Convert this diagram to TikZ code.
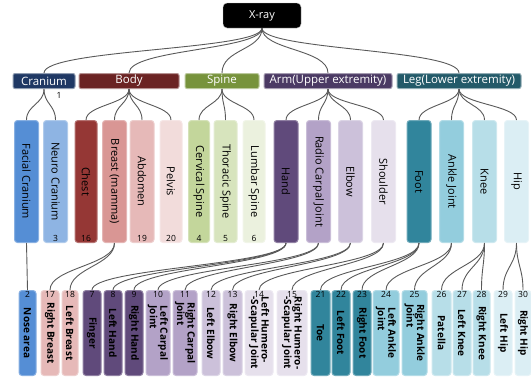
\documentclass[tikz,border=0pt]{standalone}
\usepackage{fontspec}
\setmainfont{Open Sans}
\usetikzlibrary{positioning}
\usepackage{xcolor}
\definecolor{cranC}{RGB}{31,56,100}
\definecolor{bodyC}{RGB}{107,35,35}
\definecolor{spineC}{RGB}{119,147,60}
\definecolor{armC}{RGB}{75,58,100}
\definecolor{legC}{RGB}{35,90,105}
\definecolor{facialC}{RGB}{85,142,213}
\definecolor{neuroC}{RGB}{142,180,227}
\definecolor{chestC}{RGB}{149,55,53}
\definecolor{breastC}{RGB}{217,150,148}
\definecolor{abdomenC}{RGB}{230,185,184}
\definecolor{pelvisC}{RGB}{242,220,219}
\definecolor{cervC}{RGB}{195,214,155}
\definecolor{thorC}{RGB}{215,228,189}
\definecolor{lumbC}{RGB}{235,241,222}
\definecolor{handC}{RGB}{96,74,123}
\definecolor{radioC}{RGB}{179,162,199}
\definecolor{elbowC}{RGB}{204,193,218}
\definecolor{shouldC}{RGB}{230,224,236}
\definecolor{footC}{RGB}{49,133,156}
\definecolor{ankleC}{RGB}{147,205,221}
\definecolor{kneeC}{RGB}{183,222,232}
\definecolor{hipC}{RGB}{219,238,244}

\begin{document}
\begin{tikzpicture}[x=1pt,y=-1pt,
  root/.style={fill=black,draw=gray!50,rounded corners=4pt,text=white,
               minimum width=78,minimum height=25,font=\fontsize{11}{13}\selectfont},
  cat/.style={fill=#1,draw=#1!50!white,line width=1pt,rounded corners=2pt,text=white,
              minimum height=15,inner sep=0pt,font=\fontsize{11.5}{13}\selectfont},
  part/.style={fill=#1,draw=#1!70!white,line width=1pt,rounded corners=3pt,
               minimum width=24,minimum height=122,inner sep=0pt},
  sub/.style={fill=#1,draw=#1!70!white,line width=1pt,rounded corners=3pt,
              minimum width=18,minimum height=85,inner sep=0pt},
  vtxt/.style={rotate=-90,align=left,inner sep=0pt,font=\fontsize{11}{12}\selectfont},
  btxt/.style={rotate=-90,align=left,inner sep=0pt,font=\fontsize{10}{10.5}\selectfont\bfseries},
  num/.style={font=\fontsize{8.5}{9}\selectfont,inner sep=1.5pt},
  link/.style={draw=gray!70!black,line width=0.9pt}
]
  \useasboundingbox (0,0) rectangle (531,378);

  % Root
  \node[root] (xray) at (262,15.5) {X-ray};

  % Regions
  \node[cat=cranC,minimum width=62]   (cran)  at (44,81)  {Cranium};
  \node[cat=bodyC,minimum width=100]  (body)  at (129,81) {Body};
  \node[cat=spineC,minimum width=74]  (spine) at (222,81) {Spine};
  \node[cat=armC,minimum width=128]   (arm)   at (328,81) {Arm(Upper extremity)};
  \node[cat=legC,minimum width=124]   (leg)   at (459,81) {Leg(Lower extremity)};
  \node[num] (n1) at (59,95) {1};

  % Parts
  \node[part=facialC,label={[vtxt]center:Facial Cranium}] (facial) at (26.5,181.5) {};
  \node[part=neuroC,label={[vtxt]center:Neuro Cranium},label={[num,anchor=south]south:3}] (neuro) at (55.5,181.5) {};
  \node[part=chestC,minimum width=22,label={[vtxt]center:Chest},label={[num,anchor=south]south:16}] (chest) at (86,181.5) {};
  \node[part=breastC,label={[vtxt]center:Breast (mamma)}] (breast) at (114.5,181.5) {};
  \node[part=abdomenC,label={[vtxt]center:Abdomen},label={[num,anchor=south]south:19}] (abdomen) at (142,181.5) {};
  \node[part=pelvisC,minimum width=22,label={[vtxt]center:Pelvis},label={[num,anchor=south]south:20}] (pelvis) at (171,181.5) {};
  \node[part=cervC,minimum width=21,label={[vtxt]center:Cervical Spine},label={[num,anchor=south]south:4}] (cerv) at (199,181.5) {};
  \node[part=thorC,minimum width=23,label={[vtxt]center:Thoracic Spine},label={[num,anchor=south]south:5}] (thor) at (225.5,181.5) {};
  \node[part=lumbC,minimum width=22,label={[vtxt]center:Lumbar Spine},label={[num,anchor=south]south:6}] (lumb) at (254,181.5) {};
  \node[part=handC,label={[vtxt]center:Hand}] (hand) at (286,181.5) {};
  \node[part=radioC,label={[vtxt]center:Radio Carpal Joint}] (radio) at (318.5,181.5) {};
  \node[part=elbowC,label={[vtxt]center:Elbow}] (elbow) at (350.5,181.5) {};
  \node[part=shouldC,label={[vtxt]center:Shoulder}] (should) at (383.5,181.5) {};
  \node[part=footC,label={[vtxt]center:Foot}] (foot) at (419,181.5) {};
  \node[part=ankleC,label={[vtxt]center:Ankle Joint}] (ankle) at (451.5,181.5) {};
  \node[part=kneeC,label={[vtxt]center:Knee}] (knee) at (484.5,181.5) {};
  \node[part=hipC,label={[vtxt]center:Hip}] (hip) at (516.5,181.5) {};

  % Sub parts
  \node[sub=facialC,minimum width=17,label={[btxt]center:Nose area},label={[num,anchor=north]north:2}] (nose) at (27.5,333) {};
  \node[sub=abdomenC,label={[btxt]center:Right Breast},label={[num,anchor=north]north:17}] (rbreast) at (50,333) {};
  \node[sub=abdomenC,minimum width=16,label={[btxt]center:Left Breast},label={[num,anchor=north]north:18}] (lbreast) at (70,333) {};
  \node[sub=handC,label={[btxt]center:Finger},label={[num,anchor=north]north:7}] (finger) at (92,333) {};
  \node[sub=handC,label={[btxt]center:Left Hand},label={[num,anchor=north]north:8}] (lhand) at (113,333) {};
  \node[sub=handC,label={[btxt]center:Right Hand},label={[num,anchor=north]north:9}] (rhand) at (134,333) {};
  \node[sub=radioC,minimum width=24,label={[btxt]center:Left Carpal\\Joint},label={[num,anchor=north]north:10}] (lcarp) at (158,333) {};
  \node[sub=radioC,minimum width=24,label={[btxt]center:Right Carpal\\Joint},label={[num,anchor=north]north:11}] (rcarp) at (185,333) {};
  \node[sub=elbowC,label={[btxt]center:Left Elbow},label={[num,anchor=north]north:12}] (lelb) at (211,333) {};
  \node[sub=elbowC,minimum width=19,label={[btxt]center:Right Elbow},label={[num,anchor=north]north:13}] (relb) at (232.5,333) {};
  \node[sub=shouldC,minimum width=28,label={[btxt]center:Left Humero-\\-Scapular Joint},label={[num,anchor=north]north:14}] (lhum) at (259,333) {};
  \node[sub=shouldC,minimum width=30,label={[btxt]center:Right Humero-\\-Scapular Joint},label={[num,anchor=north]north:15}] (rhum) at (292,333) {};
  \node[sub=footC,minimum width=19,label={[btxt]center:Toe},label={[num,anchor=north]north:21}] (toe) at (320.5,333) {};
  \node[sub=footC,label={[btxt]center:Left Foot},label={[num,anchor=north]north:22}] (lfoot) at (341,333) {};
  \node[sub=footC,label={[btxt]center:Right Foot},label={[num,anchor=north]north:23}] (rfoot) at (362,333) {};
  \node[sub=ankleC,minimum width=26,label={[btxt]center:Left Ankle\\Joint},label={[num,anchor=north]north:24}] (lank) at (386,333) {};
  \node[sub=ankleC,minimum width=25,label={[btxt]center:Right Ankle\\Joint},label={[num,anchor=north]north:25}] (rank) at (414.5,333) {};
  \node[sub=kneeC,minimum width=19,label={[btxt]center:Patella},label={[num,anchor=north]north:26}] (patella) at (441.5,333) {};
  \node[sub=kneeC,label={[btxt]center:Left Knee},label={[num,anchor=north]north:27}] (lknee) at (462,333) {};
  \node[sub=kneeC,minimum width=17,label={[btxt]center:Right Knee},label={[num,anchor=north]north:28}] (rknee) at (481.5,333) {};
  \node[sub=hipC,label={[btxt]center:Left Hip},label={[num,anchor=north]north:29}] (lhip) at (503,333) {};
  \node[sub=hipC,minimum width=16,label={[btxt]center:Right Hip},label={[num,anchor=north]north:30}] (rhip) at (523,333) {};

  % Links root -> regions
  \draw[link] (xray.south) .. controls +(0,22) and +(0,-24) .. (cran.north);
  \draw[link] (xray.south) .. controls +(0,22) and +(0,-24) .. (body.north);
  \draw[link] (xray.south) .. controls +(0,22) and +(0,-24) .. (spine.north);
  \draw[link] (xray.south) .. controls +(0,22) and +(0,-24) .. (arm.north);
  \draw[link] (xray.south) .. controls +(0,22) and +(0,-24) .. (leg.north);

  % Links regions -> parts
  \draw[link] (cran.south) .. controls +(0,15) and +(0,-15) .. (facial.north);
  \draw[link] (cran.south) .. controls +(0,15) and +(0,-15) .. (neuro.north);
  \draw[link] (body.south) .. controls +(0,15) and +(0,-15) .. (chest.north);
  \draw[link] (body.south) .. controls +(0,15) and +(0,-15) .. (breast.north);
  \draw[link] (body.south) .. controls +(0,15) and +(0,-15) .. (abdomen.north);
  \draw[link] (body.south) .. controls +(0,15) and +(0,-15) .. (pelvis.north);
  \draw[link] (spine.south) .. controls +(0,15) and +(0,-15) .. (cerv.north);
  \draw[link] (spine.south) .. controls +(0,15) and +(0,-15) .. (thor.north);
  \draw[link] (spine.south) .. controls +(0,15) and +(0,-15) .. (lumb.north);
  \draw[link] (arm.south) .. controls +(0,15) and +(0,-15) .. (hand.north);
  \draw[link] (arm.south) .. controls +(0,15) and +(0,-15) .. (radio.north);
  \draw[link] (arm.south) .. controls +(0,15) and +(0,-15) .. (elbow.north);
  \draw[link] (arm.south) .. controls +(0,15) and +(0,-15) .. (should.north);
  \draw[link] (leg.south) .. controls +(0,15) and +(0,-15) .. (foot.north);
  \draw[link] (leg.south) .. controls +(0,15) and +(0,-15) .. (ankle.north);
  \draw[link] (leg.south) .. controls +(0,15) and +(0,-15) .. (knee.north);
  \draw[link] (leg.south) .. controls +(0,15) and +(0,-15) .. (hip.north);

  % Links parts -> sub parts
  \draw[link] (facial.south) -- (nose.north);
  \draw[link] (breast.south) .. controls +(0,22) and +(0,-22) .. (rbreast.north);
  \draw[link] (breast.south) .. controls +(0,22) and +(0,-22) .. (lbreast.north);
  \draw[link] (hand.south) .. controls +(0,22) and +(0,-22) .. (finger.north);
  \draw[link] (hand.south) .. controls +(0,22) and +(0,-22) .. (lhand.north);
  \draw[link] (hand.south) .. controls +(0,22) and +(0,-22) .. (rhand.north);
  \draw[link] (radio.south) .. controls +(0,22) and +(0,-22) .. (lcarp.north);
  \draw[link] (radio.south) .. controls +(0,22) and +(0,-22) .. (rcarp.north);
  \draw[link] (elbow.south) .. controls +(0,22) and +(0,-22) .. (lelb.north);
  \draw[link] (elbow.south) .. controls +(0,22) and +(0,-22) .. (relb.north);
  \draw[link] (should.south) .. controls +(0,22) and +(0,-22) .. (lhum.north);
  \draw[link] (should.south) .. controls +(0,22) and +(0,-22) .. (rhum.north);
  \draw[link] (foot.south) .. controls +(0,22) and +(0,-22) .. (toe.north);
  \draw[link] (foot.south) .. controls +(0,22) and +(0,-22) .. (lfoot.north);
  \draw[link] (foot.south) .. controls +(0,22) and +(0,-22) .. (rfoot.north);
  \draw[link] (ankle.south) .. controls +(0,22) and +(0,-22) .. (lank.north);
  \draw[link] (ankle.south) .. controls +(0,22) and +(0,-22) .. (rank.north);
  \draw[link] (knee.south) .. controls +(0,22) and +(0,-22) .. (patella.north);
  \draw[link] (knee.south) .. controls +(0,22) and +(0,-22) .. (lknee.north);
  \draw[link] (knee.south) .. controls +(0,22) and +(0,-22) .. (rknee.north);
  \draw[link] (hip.south) .. controls +(0,22) and +(0,-22) .. (lhip.north);
  \draw[link] (hip.south) .. controls +(0,22) and +(0,-22) .. (rhip.north);
\end{tikzpicture}
\end{document}
